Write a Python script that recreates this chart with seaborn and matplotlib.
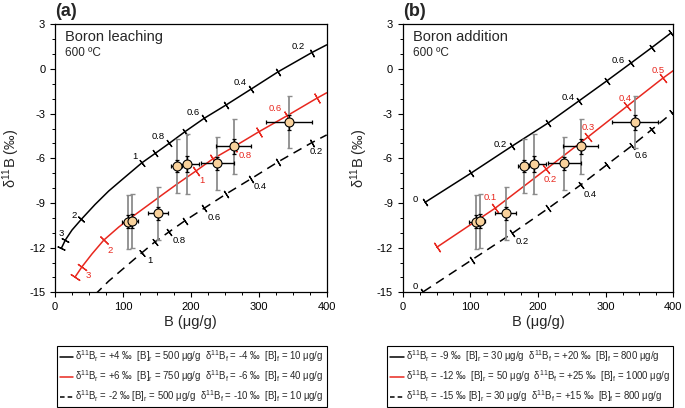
import numpy as np
import matplotlib
matplotlib.use("Agg")
import matplotlib.pyplot as plt
from matplotlib.ticker import MultipleLocator
from matplotlib.lines import Line2D
import seaborn as sns

# ---------------- data ----------------
sample_B = [108, 114, 152, 179, 194, 239, 263, 344]
sample_d11B = [-10.26, -10.20, -9.70, -6.52, -6.38, -6.34, -5.20, -3.58]
sample_B_err = [10, 8, 15, 8, 18, 24, 26, 34]
sample_d_err_total = [1.8, 1.8, 1.8, 1.8, 2.0, 1.8, 1.85, 1.75]
sample_d_err_analytical = [0.45, 0.45, 0.45, 0.4, 0.55, 0.45, 0.5, 0.5]

# panel (a): boron leaching curves
a_blk_B = [9.3, 15.2, 25, 38.7, 59, 79, 99, 128, 147.5, 168.3, 191.4, 219.4, 251.8, 288.1, 328.8, 378, 400]
a_blk_d = [-12.05, -11.49, -10.82, -10.10, -9.10, -8.20, -7.42, -6.30, -5.67, -4.99, -4.21, -3.32, -2.42, -1.37, -0.18, 1.10, 1.62]
a_blk_tick_B = [9.3, 15.2, 38.7, 128, 147.5, 168.3, 191.4, 219.4, 251.8, 288.1, 328.8, 378]
a_blk_tick_d = [-12.05, -11.49, -10.10, -6.30, -5.67, -4.99, -4.21, -3.32, -2.42, -1.37, -0.18, 1.10]
a_blk_labels = ["0.2", "0.4", "0.6", "0.8", "1", "2", "3"]

a_red_B = [29.9, 39.8, 54.5, 71.7, 93.8, 108, 128, 157, 180, 207.6, 232, 262.8, 300.4, 341, 385.3, 400]
a_red_d = [-13.95, -13.28, -12.42, -11.50, -10.62, -10.12, -9.45, -8.48, -7.72, -6.85, -6.05, -5.24, -4.21, -3.16, -1.97, -1.60]
a_red_tick_B = [29.9, 39.8, 71.7, 207.6, 232, 262.8, 300.4, 341, 385.3]
a_red_tick_d = [-13.95, -13.28, -11.50, -6.85, -6.05, -5.24, -4.21, -3.16, -1.97]
a_red_labels = ["0.6", "0.8", "1", "2", "3"]

a_dsh_B = [59, 79, 99, 128, 147.5, 168.3, 191.4, 219.4, 251.8, 288.1, 328.8, 378, 400]
a_dsh_d = [-15.15, -14.25, -13.47, -12.34, -11.60, -10.93, -10.19, -9.36, -8.40, -7.39, -6.23, -4.95, -4.43]
a_dsh_tick_B = [128, 147.5, 168.3, 191.4, 219.4, 251.8, 288.1, 328.8, 378]
a_dsh_tick_d = [-12.34, -11.60, -10.93, -10.19, -9.36, -8.40, -7.39, -6.23, -4.95]
a_dsh_labels = ["0.2", "0.4", "0.6", "0.8", "1"]

# panel (b): boron addition curves
b_blk_B = [33, 100.5, 161, 215.2, 261, 301.4, 336.9, 368, 396]
b_blk_d = [-8.96, -7.01, -5.20, -3.62, -2.13, -0.81, 0.38, 1.43, 2.40]
b_blk_labels = ["0", "0.2", "0.4", "0.6"]

b_red_B = [50.2, 136.4, 211.8, 274.3, 332, 384.2, 400]
b_red_d = [-11.98, -9.36, -6.74, -4.55, -2.49, -0.63, -0.11]
b_red_tick_B = [50.2, 136.4, 211.8, 274.3, 332, 384.2]
b_red_tick_d = [-11.98, -9.36, -6.74, -4.55, -2.49, -0.63]
b_red_labels = ["0.1", "0.2", "0.3", "0.4", "0.5"]

b_dsh_B = [30.5, 101.9, 162, 215.2, 263, 301.4, 338.4, 368, 397.5]
b_dsh_d = [-14.96, -12.83, -11.04, -9.36, -7.79, -6.45, -5.17, -4.08, -2.98]
b_dsh_labels = ["0", "0.2", "0.4", "0.6"]

panel_titles = ["Boron leaching", "Boron addition"]
panel_letters = ["(a)", "(b)"]
temperature = "600 ºC"

legend_a = [
    r"δ$^{11}$B$_r$ = +4 ‰  [B]$_r$ = 500 μg/g  δ$^{11}$B$_f$ = -4 ‰  [B]$_f$ = 10 μg/g",
    r"δ$^{11}$B$_r$ = +6 ‰  [B]$_r$ = 750 μg/g  δ$^{11}$B$_f$ = -6 ‰  [B]$_f$ = 40 μg/g",
    r"δ$^{11}$B$_r$ = -2 ‰ [B]$_r$ = 500 μg/g  δ$^{11}$B$_f$ = -10 ‰  [B]$_f$ = 10 μg/g",
]
legend_b = [
    r"δ$^{11}$B$_r$ = -9 ‰  [B]$_r$ = 30 μg/g  δ$^{11}$B$_f$ = +20 ‰  [B]$_f$ = 800 μg/g",
    r"δ$^{11}$B$_r$ = -12 ‰  [B]$_r$ = 50 μg/g  δ$^{11}$B$_f$ = +25 ‰  [B]$_f$ = 1000 μg/g",
    r"δ$^{11}$B$_r$ = -15 ‰ [B]$_r$ = 30 μg/g  δ$^{11}$B$_f$ = +15 ‰  [B]$_f$ = 800 μg/g",
]

# ---------------- layout / style ----------------
a_blk_label_pos = [(358, 1.5), (272, -0.92), (204, -2.94), (152, -4.55), (118, -5.89), (28, -9.81), (9, -11.04)]
a_red_label_pos = [(324, -2.64), (280, -5.78), (216, -7.46), (81, -12.16), (49, -13.84)]
a_dsh_label_pos = [(385, -5.56), (302, -7.91), (234.5, -9.96), (183, -11.53), (139, -12.88)]
b_blk_label_pos = [(18, -8.75), (144, -5.04), (244, -1.90), (318.6, 0.60)]
b_red_label_pos = [(130, -8.62), (217.7, -7.41), (274.3, -3.94), (328.5, -1.97), (377.7, -0.11)]
b_dsh_label_pos = [(18, -14.62), (177.3, -11.60), (276.8, -8.46), (353.2, -5.84)]

RED = "#E8281F"
FACE = "#F9D29C"
GREY = "#8c8c8c"
DASH = (0, (6, 4))

sns.set_style("ticks")
plt.rcParams["font.family"] = ["Liberation Sans", "DejaVu Sans"]
plt.rcParams.update({
    "mathtext.fontset": "custom",
    "mathtext.rm": "Liberation Sans",
    "mathtext.it": "Liberation Sans:italic",
    "mathtext.bf": "Liberation Sans:bold",
    "mathtext.sf": "Liberation Sans",
    "mathtext.default": "regular",
    "axes.unicode_minus": False,
    "axes.edgecolor": "black",
    "axes.linewidth": 0.9,
    "xtick.color": "black",
    "ytick.color": "black",
    "xtick.direction": "out",
    "ytick.direction": "out",
    "xtick.major.size": 3.5,
    "ytick.major.size": 3.5,
    "xtick.minor.size": 2,
    "ytick.minor.size": 2,
    "xtick.major.width": 0.8,
    "ytick.major.width": 0.8,
    "xtick.minor.width": 0.7,
    "ytick.minor.width": 0.7,
})

fig = plt.figure(figsize=(6.85, 4.08), dpi=100)
ax_a = fig.add_axes([55 / 685, 1 - 292.3 / 408, 271.7 / 685, 268 / 408])
ax_b = fig.add_axes([402.7 / 685, 1 - 292.3 / 408, 270.6 / 685, 268 / 408])


def setup(ax, letter, title):
    ax.set_xlim(0, 400)
    ax.set_ylim(-15, 3)
    ax.set_xticks([0, 100, 200, 300, 400])
    ax.set_yticks([-15, -12, -9, -6, -3, 0, 3])
    ax.xaxis.set_minor_locator(MultipleLocator(25))
    ax.yaxis.set_minor_locator(MultipleLocator(1))
    ax.tick_params(labelsize=8)
    ax.set_xlabel("B (μg/g)", fontsize=10.5, labelpad=2)
    ax.set_ylabel("δ$^{11}$B (‰)", fontsize=10.5, labelpad=5)
    for s in ax.spines.values():
        s.set_visible(True)
    ax.text(0.0, 1.015, letter, transform=ax.transAxes, fontsize=13,
            fontweight="bold", ha="left", va="bottom")
    ax.text(0.037, 0.951, title, transform=ax.transAxes, fontsize=10.5,
            ha="left", va="center")
    ax.text(0.037, 0.892, temperature, transform=ax.transAxes, fontsize=8.5,
            ha="left", va="center")


def curve(ax, xs, ys, color, ls="-"):
    sns.lineplot(x=xs, y=ys, sort=False, estimator=None, color=color,
                 linewidth=1.1, linestyle=ls, ax=ax, zorder=2, legend=False)


def ticks(ax, cx, cy, tx, ty, color, size, lw):
    cx = np.asarray(cx, float)
    cy = np.asarray(cy, float)
    for x, y in zip(tx, ty):
        x0 = max(x - 6, cx.min())
        x1 = min(x + 6, cx.max())
        y0, y1 = np.interp([x0, x1], cx, cy)
        p0 = ax.transData.transform((x0, y0))
        p1 = ax.transData.transform((x1, y1))
        ang = np.degrees(np.arctan2(p1[1] - p0[1], p1[0] - p0[0]))
        ax.plot([x], [y], marker=(2, 2, ang), ms=size, mec=color, mew=lw,
                ls="none", zorder=2.5)


def labels(ax, texts, pos, color):
    for t, (x, y) in zip(texts, pos):
        ax.text(x, y, t, color=color, fontsize=6.8, ha="center", va="center",
                zorder=6)


def samples(ax):
    ax.errorbar(sample_B, sample_d11B, yerr=sample_d_err_total, fmt="none",
                ecolor=GREY, elinewidth=1.3, capsize=1.8, capthick=1.0, zorder=3)
    ax.errorbar(sample_B, sample_d11B, xerr=sample_B_err,
                yerr=sample_d_err_analytical, fmt="none", ecolor="black",
                elinewidth=1.0, capsize=1.6, capthick=0.9, zorder=4)
    sns.scatterplot(x=sample_B, y=sample_d11B, s=42, color=FACE,
                    edgecolor="black", linewidth=0.8, ax=ax, zorder=5,
                    legend=False)


# ---------------- panel (a) ----------------
setup(ax_a, panel_letters[0], panel_titles[0])
curve(ax_a, a_blk_B, a_blk_d, "black")
curve(ax_a, a_red_B, a_red_d, RED)
curve(ax_a, a_dsh_B, a_dsh_d, "black", DASH)
ticks(ax_a, a_blk_B, a_blk_d, a_blk_tick_B, a_blk_tick_d, "black", 6, 0.9)
ticks(ax_a, a_red_B, a_red_d, a_red_tick_B, a_red_tick_d, RED, 8, 0.9)
ticks(ax_a, a_dsh_B, a_dsh_d, a_dsh_tick_B, a_dsh_tick_d, "black", 6, 0.9)
labels(ax_a, a_blk_labels, a_blk_label_pos, "black")
labels(ax_a, a_red_labels, a_red_label_pos, RED)
labels(ax_a, a_dsh_labels, a_dsh_label_pos, "black")
samples(ax_a)

# ---------------- panel (b) ----------------
setup(ax_b, panel_letters[1], panel_titles[1])
curve(ax_b, b_blk_B, b_blk_d, "black")
curve(ax_b, b_red_B, b_red_d, RED)
curve(ax_b, b_dsh_B, b_dsh_d, "black", DASH)
ticks(ax_b, b_blk_B, b_blk_d, b_blk_B, b_blk_d, "black", 6, 0.9)
ticks(ax_b, b_red_B, b_red_d, b_red_tick_B, b_red_tick_d, RED, 8, 0.9)
ticks(ax_b, b_dsh_B, b_dsh_d, b_dsh_B, b_dsh_d, "black", 6, 0.9)
labels(ax_b, b_blk_labels, b_blk_label_pos, "black")
labels(ax_b, b_red_labels, b_red_label_pos, RED)
labels(ax_b, b_dsh_labels, b_dsh_label_pos, "black")
samples(ax_b)

# ---------------- legends ----------------
handles = [Line2D([], [], color="black", lw=1.1),
           Line2D([], [], color=RED, lw=1.1),
           Line2D([], [], color="black", lw=1.1, ls=(0, (3, 2)))]


def add_legend(texts, right_px):
    leg = fig.legend(handles, texts, loc="lower right",
                     bbox_to_anchor=(right_px / 685, 1 / 408),
                     bbox_transform=fig.transFigure, fontsize=6.9,
                     frameon=True, fancybox=False, edgecolor="black",
                     framealpha=1, borderpad=0.3, labelspacing=0.42,
                     handlelength=1.4, handletextpad=0.25, borderaxespad=0)
    leg.get_frame().set_linewidth(0.8)


add_legend(legend_a, 326.7)
add_legend(legend_b, 673.3)

fig.savefig("out.png", dpi=100)
